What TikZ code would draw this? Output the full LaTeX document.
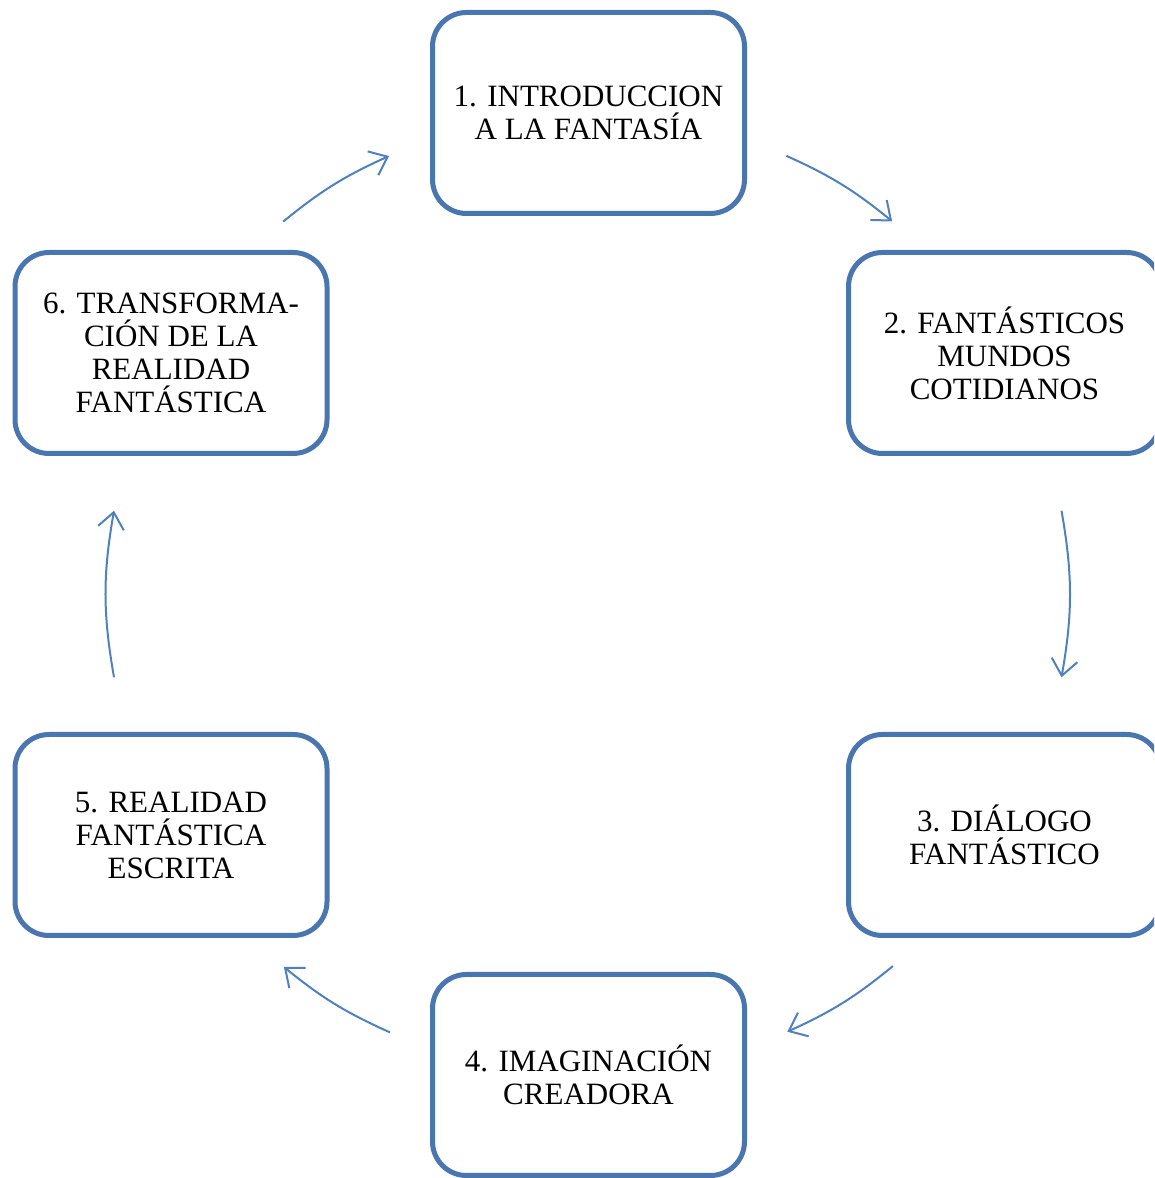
\documentclass[tikz,border=0pt]{standalone}
\usepackage{fontspec}
\setmainfont{Liberation Serif}
\usetikzlibrary{arrows.meta}
\definecolor{cyedge}{HTML}{4A76B0}
\definecolor{cyarrow}{HTML}{4F81BD}

\begin{document}
\begin{tikzpicture}[x=1pt, y=1pt,
    stage/.style={draw=cyedge, line width=5pt, rounded corners=34pt, fill=white,
      minimum width=312pt, minimum height=201pt, align=center, inner sep=0pt,
      font=\fontsize{31}{33}\selectfont},
    flow/.style={draw=cyarrow, line width=2pt, -{Straight Barb[length=16pt, width=26pt]}},
  ]
  \useasboundingbox (0, 0) rectangle (1154, 1178);
  \clip (0, 0) rectangle (1154, 1178);

  % the six stages, all on one circle round (588, 584)
  \node[stage] (b1) at (588.5, 1065) {1. INTRODUCCION\\A LA FANTASÍA};
  \node[stage] (b2) at (1004.5, 825) {2. FANTÁSTICOS\\MUNDOS\\COTIDIANOS};
  \node[stage] (b3) at (1004.5, 343) {3. DIÁLOGO\\FANTÁSTICO};
  \node[stage] (b4) at (588.5, 103) {4. IMAGINACIÓN\\CREADORA};
  \node[stage] (b5) at (171, 343) {5. REALIDAD\\FANTÁSTICA\\ESCRITA};
  \node[stage] (b6) at (171, 825) {6. TRANSFORMA-\\CIÓN DE LA\\REALIDAD\\FANTÁSTICA};

  % arrows: middle piece of the arc from one centre to the next
  \foreach \src/\dst/\s/\e/\b in {b1/b2/0.405/0.655/7.5, b2/b3/0.333/0.667/10,
      b3/b4/0.343/0.593/7.5, b4/b5/0.405/0.655/7.5, b5/b6/0.333/0.667/10,
      b6/b1/0.343/0.593/7.5} {
    \path (\src.center) to[bend left=30, looseness=0.91]
      coordinate[pos=\s] (\src-out) coordinate[pos=\e] (\dst-in) (\dst.center);
    \draw[flow] (\src-out) to[bend left=\b] (\dst-in);
  }
\end{tikzpicture}
\end{document}
